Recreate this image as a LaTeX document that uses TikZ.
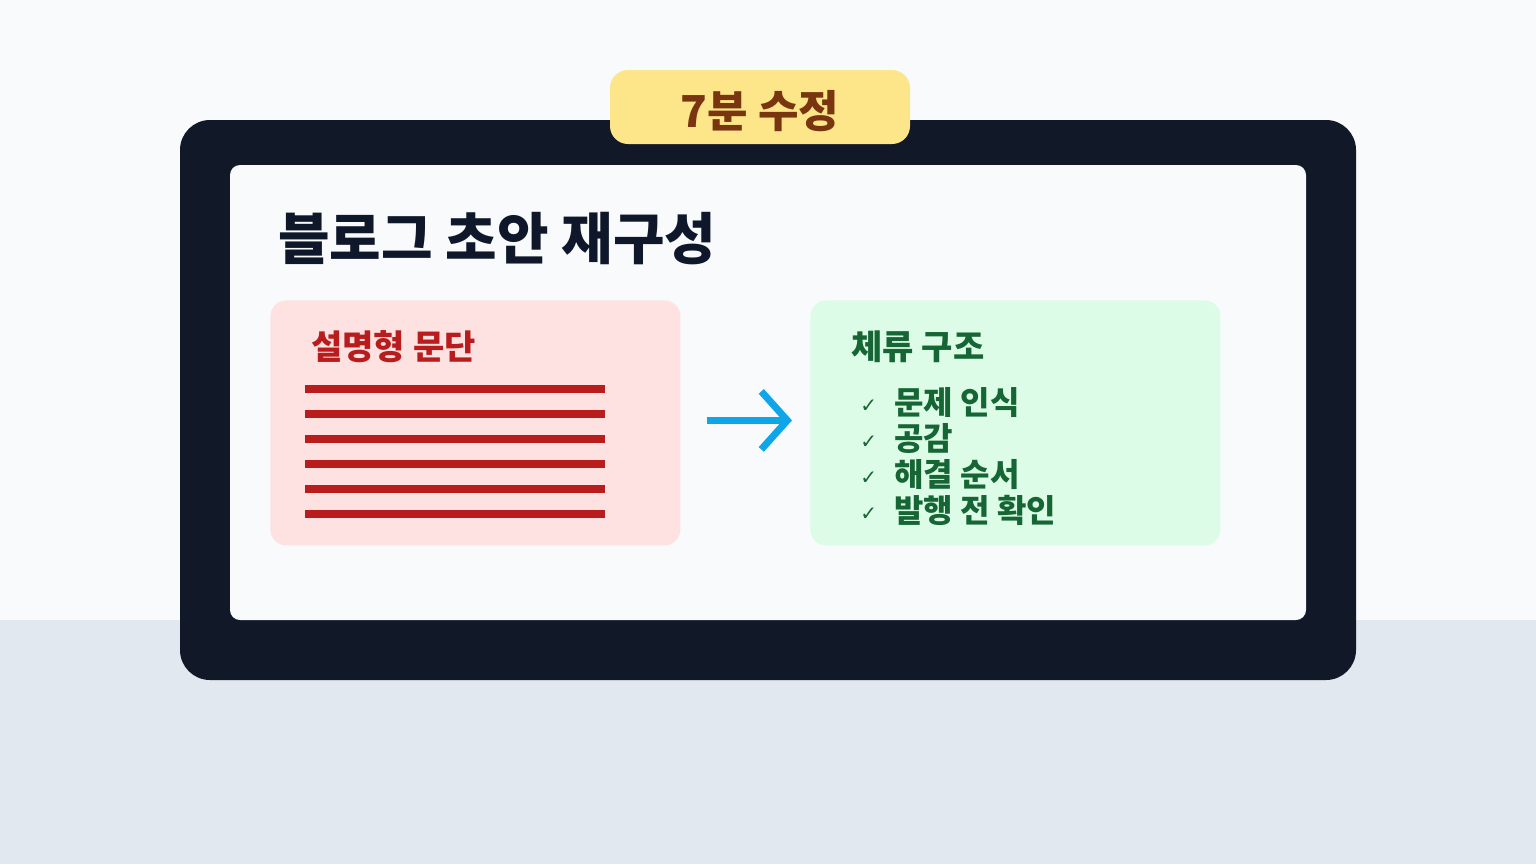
\documentclass[tikz,border=0pt]{standalone}
\usepackage{fontspec}
\setmainfont{Noto Sans CJK KR}
\newfontfamily\checkfont{DejaVu Sans}
\usetikzlibrary{arrows.meta}

% Warna
\definecolor{bgtop}{HTML}{F8FAFC}
\definecolor{bgfloor}{HTML}{E2E8F0}
\definecolor{framecol}{HTML}{111827}
\definecolor{badgefill}{HTML}{FDE68A}
\definecolor{badgetext}{HTML}{78350F}
\definecolor{titletext}{HTML}{0F172A}
\definecolor{redfill}{HTML}{FEE2E2}
\definecolor{redtext}{HTML}{B91C1C}
\definecolor{greenfill}{HTML}{DCFCE7}
\definecolor{greentext}{HTML}{166534}
\definecolor{arrowcol}{HTML}{0EA5E9}

\begin{document}
\begin{tikzpicture}[x=0.5pt,y=-0.5pt,
    card/.style={rounded corners=8pt, inner sep=0pt, anchor=north west,
      minimum width=205pt, minimum height=122.5pt},
    cardtitle/.style={anchor=base west, inner sep=0pt, font=\bfseries\fontsize{17}{20}\selectfont},
    item/.style={anchor=base west, inner sep=0pt, text=greentext,
      font=\bfseries\fontsize{16}{19}\selectfont},
    tick/.style={anchor=base west, inner sep=0pt, text=greentext,
      font=\checkfont\fontsize{10}{12}\selectfont},
    flow/.style={line width=3.5pt, draw=arrowcol, -{Straight Barb[length=13pt,width=29pt]}}]

  \useasboundingbox (0,0) rectangle (1536,864);

  % Latar
  \fill[bgtop] (0,0) rectangle (1536,620);
  \fill[bgfloor] (0,620) rectangle (1536,864);

  % Bingkai layar
  \fill[framecol, rounded corners=15pt] (180,120) rectangle (1356,680);
  \fill[bgtop, rounded corners=5pt] (230,165) rectangle (1306,620);

  % Label waktu
  \node[fill=badgefill, rounded corners=9pt, minimum width=150pt, minimum height=37pt,
    inner sep=0pt] (badge) at (760,107) {};
  \node[anchor=base, inner sep=0pt, text=badgetext,
    font=\bfseries\fontsize{22}{26}\selectfont] (badgetxt) at (760,127) {7분 수정};

  % Judul
  \node[anchor=base west, inner sep=0pt, text=titletext,
    font=\bfseries\fontsize{28}{32}\selectfont] (title) at (278,259) {블로그 초안 재구성};

  % Kartu kiri
  \node[card, fill=redfill] (before) at (270,300) {};
  \node[cardtitle, text=redtext] (beforetitle) at (311,359) {설명형 문단};
  \foreach \y in {389,414,...,514}
    {
      \draw[line width=4pt, redtext] (305,\y) -- (605,\y);
    }

  % Kartu kanan
  \node[card, fill=greenfill] (after) at (810,300) {};
  \node[cardtitle, text=greentext] (aftertitle) at (851,359) {체류 구조};
  \foreach \t [count=\i] in {문제 인식, 공감, 해결 순서, 발행 전 확인}
    {
      \node[tick] (tick\i) at (860,376+36*\i) {✓};
      \node[item] (item\i) at (894,378+36*\i) {\t};
    }

  % Panah
  \draw[flow, shorten <=13pt, shorten >=9pt] ([yshift=1.25pt]before.east) -- ([yshift=1.25pt]after.west);
\end{tikzpicture}
\end{document}
